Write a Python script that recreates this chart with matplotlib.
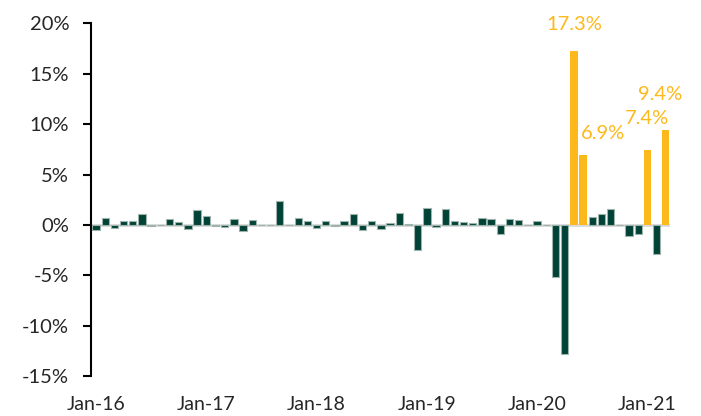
import matplotlib.pyplot as plt
import numpy as np
from matplotlib.transforms import ScaledTranslation

plt.rcParams['font.family'] = ['Lato', 'DejaVu Sans']

# monthly change, Jan-16 .. Mar-21 (%)
changes = [
    -0.5, 0.7, -0.25, 0.35, 0.35, 1.1, -0.1, 0.0, 0.55, 0.3, -0.35, 1.45,
    0.9, -0.1, -0.2, 0.6, -0.55, 0.45, 0.0, 0.0, 2.4, 0.0, 0.7, 0.4,
    -0.25, 0.4, -0.1, 0.4, 1.1, -0.5, 0.4, -0.35, 0.2, 1.15, 0.05, -2.5,
    1.7, -0.2, 1.6, 0.4, 0.25, 0.2, 0.65, 0.55, -0.85, 0.6, 0.45, 0.0,
    0.35, 0.0, -5.2, -12.8, 17.3, 6.9, 0.8, 1.05, 1.6, 0.0, -1.05, -0.9,
    7.4, -2.9, 9.4,
]
tick_labels = ['Jan-16', 'Jan-17', 'Jan-18', 'Jan-19', 'Jan-20', 'Jan-21']
highlight = 5.0  # bars above this are drawn in yellow and labelled

green = '#004236'
yellow = '#FDB81C'

values = np.array(changes)
x = np.arange(len(values))
colors = [yellow if v > highlight else green for v in values]
edges = ['none' if v > highlight else '#9db3ac' for v in values]

fig = plt.figure(figsize=(7.01, 4.16), dpi=100)
ax = fig.add_axes([0.1304, 0.0957, 0.8259, 0.8481])

ax.axhline(0, color='#d9d9d9', lw=2, zorder=1)
bars = ax.bar(x, values, width=0.8, color=colors, edgecolor=edges, linewidth=0.8, zorder=2)

# labels for the big yellow bars (manually nudged like the original)
offsets = {52: (0, 18), 53: (20, 13), 60: (0, 23), 62: (-6, 27)}
for i, bar in enumerate(bars):
    if values[i] > highlight:
        dx, dy = offsets.get(i, (0, 5))
        ax.annotate(f'{values[i]:.1f}%', (bar.get_x() + bar.get_width() / 2, values[i]),
                    xytext=(dx * 0.72, dy * 0.72), textcoords='offset points',
                    ha='center', va='bottom', color=yellow, fontsize=14.5)

ax.set_xlim(-0.5, len(values) - 0.5)
ax.set_ylim(-15, 20)
ax.set_yticks(np.arange(-15, 21, 5))
ax.set_yticklabels([f'{t}%' for t in range(-15, 21, 5)])

ax.set_xticks(np.arange(0, len(values), 12))
ax.set_xticklabels(tick_labels)
shift = ScaledTranslation(-0.085, 0, fig.dpi_scale_trans)
for lbl in ax.get_xticklabels():
    lbl.set_transform(lbl.get_transform() + shift)

for s in ['top', 'right', 'bottom']:
    ax.spines[s].set_visible(False)
ax.spines['left'].set_linewidth(1.5)
ax.tick_params(axis='y', length=6, width=1.5, pad=10, labelsize=14.5, labelcolor='#262626')
ax.tick_params(axis='x', length=0, pad=14, labelsize=14, labelcolor='#262626')

fig.savefig('out.png', dpi=100)
